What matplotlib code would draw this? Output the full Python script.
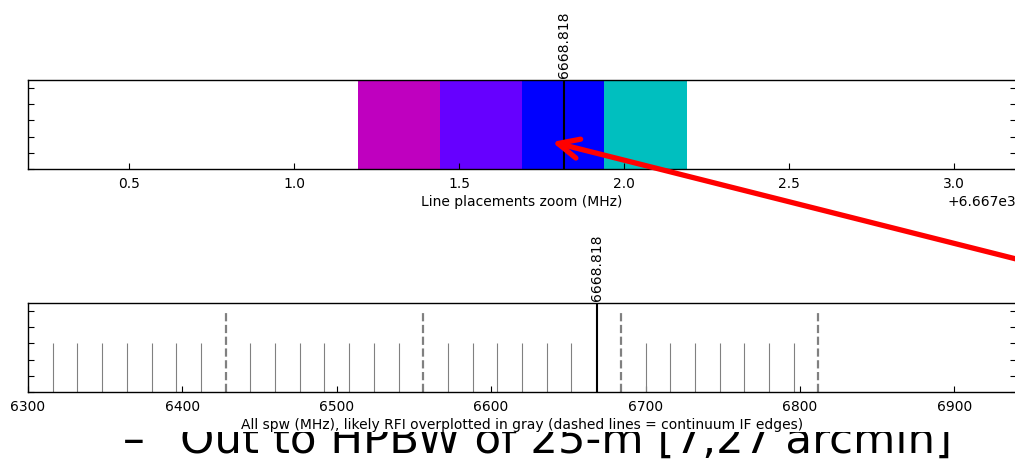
import matplotlib
matplotlib.use("Agg")
import matplotlib.pyplot as plt
from matplotlib.ticker import MultipleLocator
from matplotlib.patches import Rectangle

# Datos (MHz)
line_freq = 6668.818
line_label = "6668.818"
spw_starts = [6668.194, 6668.443, 6668.692, 6668.941]
spw_width = 0.249
spw_colors = ["#bf00bf", "#6600ff", "#0000ff", "#00bfbf"]
rfi_freqs = [6316, 6332, 6348, 6364, 6380, 6396, 6412,
             6444, 6460, 6476, 6492, 6508, 6524, 6540,
             6572, 6588, 6604, 6620, 6636, 6652,
             6700, 6716, 6732, 6748, 6764, 6780, 6796]
if_edges = [6428, 6556, 6684, 6812]

zoom_xlim = (6667.194, 6670.188)
all_xlim = (6300, 6940)

W, H = 1015, 464
fig = plt.figure(figsize=(W / 100, H / 100), dpi=100)

ax1 = fig.add_axes([28 / W, 1 - 170 / H, 988 / W, 89 / H])
ax2 = fig.add_axes([28 / W, 1 - 393 / H, 988 / W, 89 / H])

def dibuja(ax, con_rfi):
    if con_rfi:
        ax.vlines(rfi_freqs, 0, 0.6, color="gray", lw=0.8)
        for f in if_edges:
            ax.plot([f, f], [0, 1.0], color="gray", lw=1.6, ls="--")
    for s, c in zip(spw_starts, spw_colors):
        ax.axvspan(s, s + spw_width, 0, 1, color=c, lw=0)
    ax.axvline(line_freq, color="black", lw=1.5)
    ax.set_ylim(0, 1.1)
    ax.yaxis.set_major_locator(MultipleLocator(0.2))
    ax.set_yticklabels([])
    ax.tick_params(axis="y", direction="in", left=True, right=True, length=4)
    ax.tick_params(axis="x", direction="in", bottom=True, top=False, length=4,
                   labelsize=10, pad=5)
    for sp in ax.spines.values():
        sp.set_linewidth(1.0)
    ax.annotate(line_label, xy=(line_freq, 1.1), xytext=(0, 2),
                textcoords="offset points", rotation=90, ha="center",
                va="bottom", fontsize=10)

dibuja(ax1, False)
ax1.set_xlim(*zoom_xlim)
ax1.xaxis.set_major_locator(MultipleLocator(0.5))
ax1.ticklabel_format(axis="x", useOffset=6667)
ax1.set_xlabel("Line placements zoom (MHz)", fontsize=10, labelpad=3)

dibuja(ax2, True)
ax2.set_xlim(*all_xlim)
ax2.xaxis.set_major_locator(MultipleLocator(100))
ax2.set_xlabel("All spw (MHz), likely RFI overplotted in gray (dashed lines = continuum IF edges)",
               fontsize=10, labelpad=3)

# Flecha roja
ax1.annotate("", xy=(552, H - 143), xycoords="figure pixels",
             xytext=(1040, H - 266), textcoords="figure pixels",
             arrowprops=dict(arrowstyle="->,head_length=0.75,head_width=0.35",
                             color="red", lw=3.8, mutation_scale=20,
                             shrinkA=0, shrinkB=0),
             annotation_clip=False, zorder=10)

# Texto de la diapositiva, tapado arriba por la imagen del grafico
fig.text(123 / W, 11 / H, "\u2013", fontsize=31.3, va="baseline", ha="left", zorder=-3)
fig.text(179.5 / W, 11 / H, "Out to HPBW of 25-m [7,27 arcmin]", fontsize=31.3,
         va="baseline", ha="left", zorder=-3)
fig.patches.append(Rectangle((0, 31 / H), 1, 1, transform=fig.transFigure,
                             facecolor="white", edgecolor="none", zorder=-2,
                             figure=fig))

fig.savefig("out.png", dpi=100)
